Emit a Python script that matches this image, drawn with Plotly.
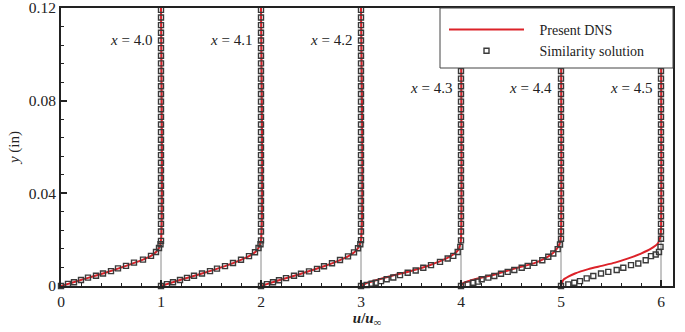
import plotly.graph_objects as go

# Streamwise stations (labels) and horizontal offsets of each profile
stations = ["4.0", "4.1", "4.2", "4.3", "4.4", "4.5"]
offsets = [0, 1, 2, 3, 4, 5]

# Similarity solution: near-wall part of each profile (u/u_inf, y in inches)
sim_u = [
    [0, 0.07, 0.13, 0.2, 0.27, 0.35, 0.42, 0.5, 0.57, 0.65, 0.73, 0.82, 0.9, 0.95, 0.98, 0.995, 1.0],
    [0, 0.06, 0.12, 0.19, 0.26, 0.33, 0.41, 0.49, 0.56, 0.64, 0.72, 0.8, 0.88, 0.94, 0.975, 0.995, 1.0],
    [0, 0.06, 0.12, 0.18, 0.25, 0.33, 0.4, 0.48, 0.56, 0.63, 0.71, 0.79, 0.87, 0.93, 0.97, 0.993, 1.0],
    [0, 0.057, 0.107, 0.147, 0.2, 0.257, 0.323, 0.39, 0.467, 0.547, 0.623, 0.7, 0.79, 0.867, 0.923, 0.967, 0.993, 1.0],
    [0, 0.067, 0.123, 0.167, 0.207, 0.273, 0.333, 0.4, 0.467, 0.533, 0.607, 0.667, 0.733, 0.813, 0.873, 0.923, 0.967, 0.99, 1.0],
    [0, 0.073, 0.133, 0.19, 0.257, 0.323, 0.4, 0.473, 0.557, 0.623, 0.7, 0.773, 0.847, 0.9, 0.947, 0.98, 0.995, 1.0],
]
sim_y = [
    [0, 0.0009, 0.0016, 0.0026, 0.0036, 0.0044, 0.0054, 0.0064, 0.0076, 0.0087, 0.0101, 0.0114, 0.013, 0.0147, 0.0164, 0.018, 0.0195],
    [0, 0.0008, 0.0016, 0.0026, 0.0035, 0.0044, 0.0054, 0.0064, 0.0075, 0.0086, 0.0099, 0.0113, 0.0129, 0.0146, 0.0164, 0.018, 0.0197],
    [0, 0.0008, 0.0016, 0.0025, 0.0034, 0.0044, 0.0053, 0.0063, 0.0074, 0.0085, 0.0098, 0.0112, 0.0128, 0.0145, 0.0163, 0.018, 0.0198],
    [0, 0.0004, 0.001, 0.0014, 0.0021, 0.0029, 0.0037, 0.0047, 0.0057, 0.0067, 0.0079, 0.009, 0.0104, 0.0119, 0.013, 0.0147, 0.0169, 0.0197],
    [0, 0.0007, 0.0014, 0.0019, 0.0029, 0.0036, 0.0043, 0.0053, 0.0061, 0.0069, 0.0079, 0.0087, 0.01, 0.0111, 0.0126, 0.014, 0.0159, 0.0179, 0.0204],
    [0, 0.0007, 0.0014, 0.0021, 0.0033, 0.0043, 0.0054, 0.0061, 0.0069, 0.0079, 0.009, 0.0097, 0.0111, 0.0129, 0.0136, 0.0147, 0.0169, 0.0204],
]
# Similarity solution: outer (free-stream, u/u_inf = 1) sample heights
sim_y_outer = [0.0235, 0.0268, 0.0301, 0.0334, 0.0367, 0.04, 0.0433, 0.0466, 0.0499,
               0.0532, 0.0565, 0.0598, 0.0631, 0.0664, 0.0697, 0.073, 0.0763, 0.0796,
               0.0829, 0.0862, 0.0895, 0.0928, 0.0961, 0.0994, 0.1027, 0.106, 0.1093,
               0.1126, 0.1159, 0.1192]

# Present DNS profiles
dns_u = [
    [0, 0.2, 0.42, 0.65, 0.82, 0.9, 0.95, 0.98, 1.0, 1.0],
    [0, 0.19, 0.41, 0.64, 0.8, 0.88, 0.94, 0.975, 1.0, 1.0],
    [0, 0.18, 0.4, 0.63, 0.79, 0.87, 0.93, 0.97, 1.0, 1.0],
    [0, 0.05, 0.15, 0.3, 0.5, 0.7, 0.85, 0.93, 0.97, 0.99, 1.0, 1.0],
    [0, 0.02, 0.073, 0.2, 0.34, 0.47, 0.6, 0.74, 0.84, 0.923, 0.973, 0.993, 1.0, 1.0],
    [0, 0.01, 0.023, 0.073, 0.14, 0.273, 0.407, 0.54, 0.673, 0.8, 0.9, 0.967, 0.993, 1.0, 1.0],
]
dns_y = [
    [0, 0.0026, 0.0054, 0.0087, 0.0114, 0.013, 0.0147, 0.0164, 0.0195, 0.12],
    [0, 0.0026, 0.0054, 0.0086, 0.0113, 0.0129, 0.0146, 0.0164, 0.0197, 0.12],
    [0, 0.0025, 0.0053, 0.0085, 0.0112, 0.0128, 0.0145, 0.0163, 0.0198, 0.12],
    [0, 0.0012, 0.0025, 0.0043, 0.0065, 0.0092, 0.0118, 0.0138, 0.0155, 0.0175, 0.02, 0.12],
    [0, 0.0012, 0.0021, 0.0036, 0.005, 0.0067, 0.0083, 0.01, 0.0119, 0.0144, 0.0169, 0.0193, 0.0219, 0.12],
    [0, 0.0015, 0.0026, 0.004, 0.0054, 0.0073, 0.0087, 0.0101, 0.0119, 0.014, 0.0161, 0.0183, 0.021, 0.024, 0.12],
]

SERIF = "Liberation Serif, Times New Roman, serif"
RED = "#dc2229"
INK = "#222222"
PAD = "\u00a0\u00a0\u00a0"

# plot-area geometry in pixels
L, R, T, B = 61, 12, 8, 46
PW, PH = 685 - L - R, 332 - T - B

fig = go.Figure()

# thin grey reference lines at the free-stream value of each profile
for off in offsets:
    fig.add_trace(go.Scatter(x=[off + 1, off + 1], y=[0, 0.12], mode="lines",
                             line=dict(color="#8a8a8a", width=1),
                             showlegend=False, hoverinfo="skip"))

# DNS lines
for i, off in enumerate(offsets):
    fig.add_trace(go.Scatter(
        x=[off + u for u in dns_u[i]], y=dns_y[i], mode="lines",
        line=dict(color=RED, width=2, shape="spline", smoothing=0.6),
        name=PAD + "Present DNS", legendgroup="dns", showlegend=(i == 0)))

# similarity solution markers
for i, off in enumerate(offsets):
    xs = [off + u for u in sim_u[i]] + [off + 1.0] * len(sim_y_outer)
    ys = list(sim_y[i]) + sim_y_outer
    fig.add_trace(go.Scatter(
        x=xs, y=ys, mode="markers", cliponaxis=False,
        marker=dict(symbol="square-open", size=5, color="#3a3a3a",
                    line=dict(width=1.4, color="#3a3a3a")),
        name=PAD + "Similarity solution", legendgroup="sim", showlegend=(i == 0)))

# station annotations
for i, off in enumerate(offsets):
    yy = 0.1063 if i < 3 else 0.0853
    fig.add_annotation(x=off + 0.93, y=yy, xref="x", yref="y",
                       text="<i>x</i> = " + stations[i], showarrow=False,
                       xanchor="right", yanchor="middle",
                       font=dict(family=SERIF, size=15, color=INK))

# legend frame (reaches the right edge of the plot frame)
fig.add_shape(type="rect", xref="paper", yref="paper",
              x0=(440 - L) / PW, x1=1.0, y0=(332 - B - 68) / PH, y1=1.0,
              line=dict(color="#444", width=1), fillcolor="white", layer="above")

fig.update_layout(
    width=685, height=332,
    margin=dict(l=L, r=R, t=T, b=B, autoexpand=False),
    paper_bgcolor="white", plot_bgcolor="white",
    font=dict(family=SERIF, size=15, color=INK),
    legend=dict(x=(444 - L) / PW, y=(332 - B - 14) / PH, xanchor="left", yanchor="top",
                bgcolor="rgba(0,0,0,0)", borderwidth=0,
                font=dict(family=SERIF, size=14, color=INK),
                itemwidth=75, tracegroupgap=0),
)
fig.update_xaxes(
    range=[0, 6.12], tickvals=[0, 1, 2, 3, 4, 5, 6],
    ticks="inside", ticklen=6, tickwidth=1.5, tickcolor=INK,
    minor=dict(ticks="inside", ticklen=3, dtick=0.2, tickcolor=INK, tickwidth=1),
    showline=True, linewidth=2, linecolor=INK, mirror=True,
    showgrid=False, zeroline=False, automargin=False, ticklabeloverflow="allow",
    tickfont=dict(family=SERIF, size=15.5, color=INK),
    title=dict(text="<b><i>u</i>/<i>u</i><sub>∞</sub></b>", standoff=4,
               font=dict(family=SERIF, size=15)),
)
fig.update_yaxes(
    range=[0, 0.12], tickvals=[0, 0.04, 0.08, 0.12],
    ticktext=["0", "0.04", "0.08", "0.12"],
    ticks="inside", ticklen=6, tickwidth=1.5, tickcolor=INK,
    minor=dict(ticks="inside", ticklen=3, dtick=0.008, tickcolor=INK, tickwidth=1),
    showline=True, linewidth=2, linecolor=INK, mirror=True,
    showgrid=False, zeroline=False, automargin=False, ticklabeloverflow="allow",
    tickfont=dict(family=SERIF, size=15.5, color=INK),
    title=dict(text="<i>y</i> (in)", standoff=6, font=dict(family=SERIF, size=15)),
)

fig.write_html("out.html", config={"displayModeBar": False},
               post_script="document.body.style.margin='0';document.body.style.padding='0';")
